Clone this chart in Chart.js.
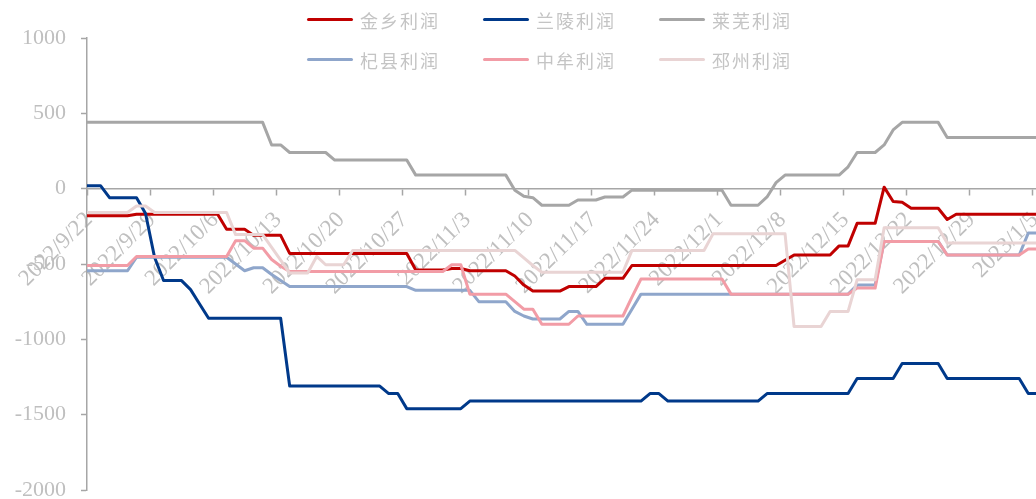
<!DOCTYPE html>
<html>
<head>
<meta charset="utf-8">
<script src="https://cdn.jsdelivr.net/npm/chart.js@4.4.0/dist/chart.umd.min.js"></script>
<style>
  html, body { margin: 0; padding: 0; background: #fff; overflow: hidden; }
  #wrap { position: relative; width: 1036px; height: 499px; }
  #legend { position: absolute; left: 0; top: 0; width: 1036px; height: 80px; pointer-events: none;
    font-family: "Noto Sans CJK SC", sans-serif; font-size: 18px; color: #c4c4c4; letter-spacing: 2px; }
  .item { position: absolute; display: flex; align-items: center; height: 24px; white-space: nowrap; }
  .item i { display: inline-block; width: 46px; height: 3.5px; border-radius: 2px; margin-right: 7px; }
</style>
</head>
<body>
<div id="wrap">
  <canvas id="myChart" width="1036" height="499"></canvas>
  <div id="legend"></div>
</div>
<script>
// daily dates, 9/21 is only the clipped start of the lines
var dates = [
  '2022/9/21','2022/9/22','2022/9/23','2022/9/24','2022/9/25','2022/9/26','2022/9/27','2022/9/28','2022/9/29','2022/9/30',
  '2022/10/1','2022/10/2','2022/10/3','2022/10/4','2022/10/5','2022/10/6','2022/10/7','2022/10/8','2022/10/9','2022/10/10',
  '2022/10/11','2022/10/12','2022/10/13','2022/10/14','2022/10/15','2022/10/16','2022/10/17','2022/10/18','2022/10/19','2022/10/20',
  '2022/10/21','2022/10/22','2022/10/23','2022/10/24','2022/10/25','2022/10/26','2022/10/27','2022/10/28','2022/10/29','2022/10/30','2022/10/31',
  '2022/11/1','2022/11/2','2022/11/3','2022/11/4','2022/11/5','2022/11/6','2022/11/7','2022/11/8','2022/11/9','2022/11/10',
  '2022/11/11','2022/11/12','2022/11/13','2022/11/14','2022/11/15','2022/11/16','2022/11/17','2022/11/18','2022/11/19','2022/11/20',
  '2022/11/21','2022/11/22','2022/11/23','2022/11/24','2022/11/25','2022/11/26','2022/11/27','2022/11/28','2022/11/29','2022/11/30',
  '2022/12/1','2022/12/2','2022/12/3','2022/12/4','2022/12/5','2022/12/6','2022/12/7','2022/12/8','2022/12/9','2022/12/10',
  '2022/12/11','2022/12/12','2022/12/13','2022/12/14','2022/12/15','2022/12/16','2022/12/17','2022/12/18','2022/12/19','2022/12/20',
  '2022/12/21','2022/12/22','2022/12/23','2022/12/24','2022/12/25','2022/12/26','2022/12/27','2022/12/28','2022/12/29','2022/12/30','2022/12/31',
  '2023/1/1','2023/1/2','2023/1/3','2023/1/4','2023/1/5'
];

var jinxiang = [-180,
  -180,-180,-180,-180,-180,-170,-170,
  -170,-170,-170,-170,-170,-170,-170,
  -170,-270,-270,-270,-310,-310,-310,
  -310,-430,-430,-430,-430,-430,-430,
  -430,-430,-430,-430,-430,-430,-430,
  -430,-540,-540,-540,-540,-530,-530,
  -545,-545,-545,-545,-545,-580,-640,
  -680,-680,-680,-680,-650,-650,-650,
  -650,-595,-595,-595,-510,-510,-510,
  -510,-510,-510,-510,-510,-510,-510,
  -510,-510,-510,-510,-510,-510,-510,
  -475,-440,-440,-440,-440,-440,-380,
  -380,-230,-230,-230,10,-85,-90,
  -130,-130,-130,-130,-205,-170,-170,
  -170,-170,-170,-170,-170,-170,-170,
  -170];
var lanling = [20,
  20,20,-60,-60,-60,-60,-165,
  -455,-610,-610,-610,-670,-765,-860,
  -860,-860,-860,-860,-860,-860,-860,
  -860,-1310,-1310,-1310,-1310,-1310,-1310,
  -1310,-1310,-1310,-1310,-1310,-1360,-1360,
  -1460,-1460,-1460,-1460,-1460,-1460,-1460,
  -1410,-1410,-1410,-1410,-1410,-1410,-1410,
  -1410,-1410,-1410,-1410,-1410,-1410,-1410,
  -1410,-1410,-1410,-1410,-1410,-1410,-1360,
  -1360,-1410,-1410,-1410,-1410,-1410,-1410,
  -1410,-1410,-1410,-1410,-1410,-1360,-1360,
  -1360,-1360,-1360,-1360,-1360,-1360,-1360,
  -1360,-1260,-1260,-1260,-1260,-1260,-1160,
  -1160,-1160,-1160,-1160,-1260,-1260,-1260,
  -1260,-1260,-1260,-1260,-1260,-1260,-1360,
  -1360];
var laiwu = [440,
  440,440,440,440,440,440,440,
  440,440,440,440,440,440,440,
  440,440,440,440,440,440,290,
  290,240,240,240,240,240,190,
  190,190,190,190,190,190,190,
  190,90,90,90,90,90,90,
  90,90,90,90,90,-10,-50,
  -60,-110,-110,-110,-110,-75,-75,
  -75,-55,-55,-55,-10,-10,-10,
  -10,-10,-10,-10,-10,-10,-10,
  -10,-110,-110,-110,-110,-55,40,
  90,90,90,90,90,90,90,
  145,240,240,240,290,390,440,
  440,440,440,440,340,340,340,
  340,340,340,340,340,340,340,
  340];
var qixian = [-545,
  -545,-545,-545,-545,-545,-455,-455,
  -455,-455,-455,-455,-455,-455,-455,
  -455,-455,-500,-545,-525,-525,-570,
  -610,-650,-650,-650,-650,-650,-650,
  -650,-650,-650,-650,-650,-650,-650,
  -650,-675,-675,-675,-675,-675,-675,
  -675,-750,-750,-750,-750,-815,-845,
  -865,-865,-865,-865,-815,-815,-900,
  -900,-900,-900,-900,-800,-700,-700,
  -700,-700,-700,-700,-700,-700,-700,
  -700,-700,-700,-700,-700,-700,-700,
  -700,-700,-700,-700,-700,-700,-700,
  -700,-640,-640,-640,-350,-350,-350,
  -350,-350,-350,-350,-440,-440,-440,
  -440,-440,-440,-440,-440,-440,-295,
  -295];
var zhongmou = [-510,
  -510,-510,-510,-510,-510,-450,-450,
  -450,-450,-450,-450,-450,-450,-450,
  -450,-450,-345,-345,-395,-395,-470,
  -515,-550,-550,-550,-550,-550,-550,
  -550,-550,-550,-550,-550,-550,-550,
  -550,-550,-550,-550,-550,-505,-505,
  -700,-700,-700,-700,-700,-750,-800,
  -800,-900,-900,-900,-900,-845,-845,
  -845,-845,-845,-845,-720,-600,-600,
  -600,-600,-600,-600,-600,-600,-600,
  -600,-700,-700,-700,-700,-700,-700,
  -700,-700,-700,-700,-700,-700,-700,
  -700,-660,-660,-660,-350,-350,-350,
  -350,-350,-350,-350,-440,-440,-440,
  -440,-440,-440,-440,-440,-440,-400,
  -400];
var pizhou = [-158,
  -158,-158,-158,-158,-158,-115,-115,
  -158,-158,-158,-158,-158,-158,-158,
  -158,-158,-305,-305,-305,-305,-390,
  -475,-560,-560,-560,-450,-505,-505,
  -505,-410,-410,-410,-410,-410,-410,
  -410,-410,-410,-410,-410,-410,-410,
  -410,-410,-410,-410,-410,-410,-460,
  -510,-555,-555,-555,-555,-555,-555,
  -555,-555,-555,-555,-410,-410,-410,
  -410,-410,-410,-410,-410,-410,-300,
  -300,-300,-300,-300,-300,-300,-300,
  -300,-915,-915,-915,-915,-815,-815,
  -815,-605,-605,-605,-260,-260,-260,
  -260,-260,-260,-260,-360,-360,-360,
  -360,-360,-360,-360,-360,-360,-360,
  -360];

var names = ['金乡利润', '兰陵利润', '莱芜利润', '杞县利润', '中牟利润', '邳州利润'];
var colors = ['#c00000', '#00398a', '#a6a6a6', '#8fa6cb', '#f29ca6', '#e9d4d4'];
var series = [jinxiang, lanling, laiwu, qixian, zhongmou, pizhou];

var grayText = '#bfbfbf';
var axisGray = '#a6a6a6';

var datasets = series.map(function (vals, k) {
  return {
    label: names[k],
    data: vals.map(function (v, i) { return { x: i - 0.5, y: v }; }),
    borderColor: colors[k],
    backgroundColor: colors[k],
    borderWidth: 3,
    pointRadius: 0,
    tension: 0,
    borderJoinStyle: 'round',
    clip: 0,
    order: names.length - k
  };
});

new Chart(document.getElementById('myChart'), {
  type: 'line',
  data: { datasets: datasets },
  options: {
    responsive: false,
    animation: false,
    events: [],
    layout: { padding: { top: 38, bottom: 9, left: 0, right: 0 } },
    plugins: { legend: { display: false }, tooltip: { enabled: false } },
    scales: {
      x: {
        type: 'linear',
        position: { y: 0 },
        min: 0,
        max: 105.36,
        afterFit: function (s) { s.paddingLeft = 0; s.paddingRight = 0; },
        grid: { drawOnChartArea: false, tickLength: 6, color: axisGray, tickWidth: 1.5 },
        border: { color: axisGray, width: 1.5 },
        ticks: {
          stepSize: 7,
          includeBounds: false,
          autoSkip: false,
          minRotation: 45,
          maxRotation: 45,
          padding: 12,
          labelOffset: 2,
          color: grayText,
          font: { family: "'Liberation Serif', serif", size: 23 },
          callback: function (v) { return dates[v + 1]; }
        }
      },
      y: {
        min: -2000,
        max: 1000,
        afterFit: function (s) { s.width = 87; s.paddingTop = 0; s.paddingBottom = 0; },
        grid: { drawOnChartArea: false, tickLength: 6, color: axisGray, tickWidth: 1.5 },
        border: { color: axisGray, width: 1.5 },
        ticks: {
          stepSize: 500,
          padding: 15,
          color: grayText,
          font: { family: "'Liberation Serif', serif", size: 22 },
          callback: function (v) { return String(v); }
        }
      }
    }
  }
});

// legend: two rows of three
var cols = [307, 483, 659];
var rows = [7.5, 47.5];
var legend = document.getElementById('legend');
names.forEach(function (n, k) {
  var d = document.createElement('div');
  d.className = 'item';
  d.style.left = cols[k % 3] + 'px';
  d.style.top = rows[Math.floor(k / 3)] + 'px';
  d.innerHTML = '<i style="background:' + colors[k] + '"></i><span>' + n + '</span>';
  legend.appendChild(d);
});
</script>
</body>
</html>
